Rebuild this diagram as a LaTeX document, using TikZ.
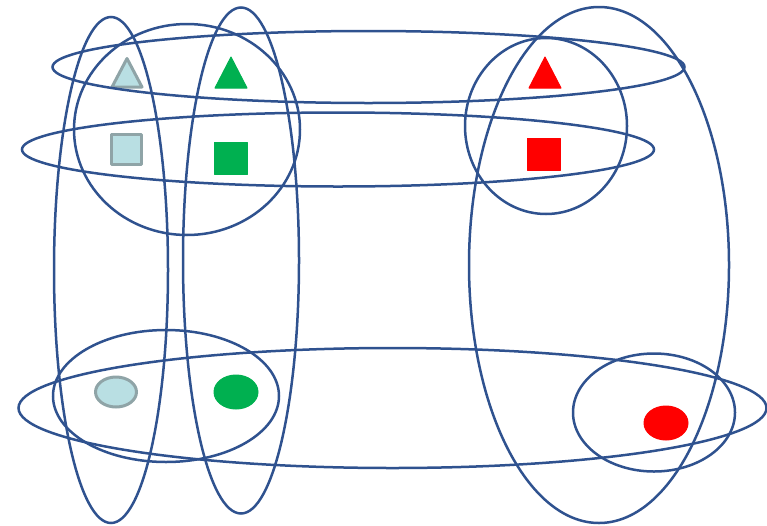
\documentclass[tikz,border=0pt]{standalone}
\begin{document}
\begin{tikzpicture}[x=1pt,y=-1pt,
  ring/.style={draw=ringblue,line width=2.5pt},
  lbmark/.style={fill=lightcyan,draw=greyedge,line width=3pt,line join=round},
  grmark/.style={fill=mgreen,draw=mgreen,line width=1pt,line join=round},
  rdmark/.style={fill=mred,draw=mred,line width=1pt,line join=round}]
\definecolor{ringblue}{HTML}{2F528F}
\definecolor{lightcyan}{HTML}{B9DFE3}
\definecolor{greyedge}{HTML}{8FA4A7}
\definecolor{mgreen}{HTML}{00B050}
\definecolor{mred}{HTML}{FF0000}
\useasboundingbox (0,0) rectangle (767,525);
% markers
\draw[lbmark] (127,58.5) -- (142,87) -- (112,87) -- cycle;
\draw[grmark] (231,57) -- (247,88) -- (215,88) -- cycle;
\draw[rdmark] (545,57) -- (561,88) -- (529,88) -- cycle;
\draw[lbmark] (111.5,134.5) rectangle (141.5,164.5);
\draw[grmark] (214,142) rectangle (247,174);
\draw[rdmark] (527,138) rectangle (560,170);
\draw[lbmark] (116,392) ellipse [x radius=20.5, y radius=15];
\draw[grmark] (236,392) ellipse [x radius=22, y radius=17];
\draw[rdmark] (666,423) ellipse [x radius=22, y radius=17];
% rings
\draw[ring] (111,270) ellipse [x radius=57, y radius=253];
\draw[ring] (241,260.5) ellipse [x radius=58, y radius=253];
\draw[ring] (599,265) ellipse [x radius=130, y radius=258];
\draw[ring] (368.5,67) ellipse [x radius=316, y radius=36];
\draw[ring] (338,149.5) ellipse [x radius=316, y radius=37];
\draw[ring] (392.5,408) ellipse [x radius=374, y radius=60];
\draw[ring] (187,129.5) ellipse [x radius=113, y radius=105.5];
\draw[ring] (546,126) ellipse [x radius=81, y radius=88];
\draw[ring] (166,396) ellipse [x radius=113, y radius=66];
\draw[ring] (654,412.5) ellipse [x radius=81, y radius=59];
\end{tikzpicture}
\end{document}
